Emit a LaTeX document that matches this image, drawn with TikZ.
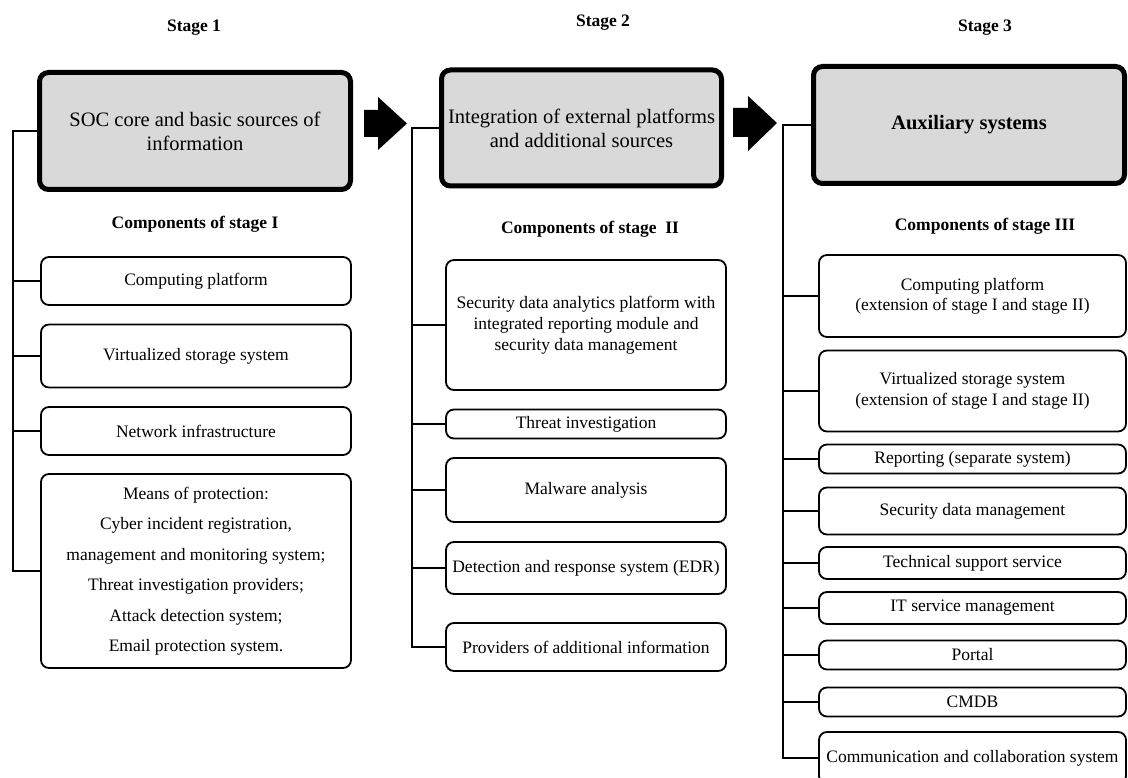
\documentclass[tikz,border=0pt]{standalone}
\usepackage{fontspec}
\setmainfont{Liberation Serif}
\definecolor{boxgray}{HTML}{D9D9D9}
\begin{document}
\begin{tikzpicture}[x=1pt,y=-1pt,
  mainbox/.style={draw, line width=5pt, rounded corners=9pt, fill=boxgray, align=center,
    font=\fontsize{20.5}{24}\selectfont, inner sep=2pt},
  compbox/.style={draw, line width=1.8pt, rounded corners=8pt, align=center,
    font=\fontsize{17.5}{21}\selectfont, inner xsep=2pt, inner ysep=0pt},
  headtext/.style={font=\fontsize{17.5}{21}\selectfont\bfseries},
  tree/.style={line width=1.6pt},
  bigarrow/.style={fill=black}]
\useasboundingbox (0,0) rectangle (1128,778);
\fill[white] (0,0) rectangle (1128,778);
\clip (0,0) rectangle (1128,778);

% headings
\node[headtext] (h1) at (194,27.5) {Stage 1};
\node[headtext] (h2) at (603,22.5) {Stage 2};
\node[headtext] (h3) at (985,27.5) {Stage 3};
\node[headtext] (c1) at (195,224) {Components of stage I};
\node[headtext] (c2) at (590,229) {Components of stage\ \ II};
\node[headtext] (c3) at (985,226) {Components of stage III};

% main boxes
\node[mainbox, minimum width=311, minimum height=117] (m1) at (195,131)
  {SOC core and basic sources of\\information};
\node[mainbox, minimum width=280, minimum height=116] (m2) at (581.5,128)
  {Integration of external platforms\\and additional sources};
\node[mainbox, minimum width=311, minimum height=117, font=\fontsize{20.5}{24}\selectfont\bfseries] (m3) at (969,125)
  {Auxiliary systems};

% block arrows
\fill[bigarrow] (364,110) -- (378,110) -- (378,97) -- (407,123.5) -- (378,150) -- (378,137) -- (364,137) -- cycle;
\fill[bigarrow] (733,108) -- (748,108) -- (748,96) -- (777,123) -- (748,151) -- (748,137) -- (733,137) -- cycle;

% stage 1 components
\node[compbox, minimum width=310, minimum height=48] (a1) at (196,281) {Computing platform};
\node[compbox, minimum width=310, minimum height=63] (a2) at (196,356) {Virtualized storage system};
\node[compbox, minimum width=310, minimum height=48] (a3) at (196,431) {Network infrastructure};
\node[compbox, minimum width=310, minimum height=194, font=\fontsize{17.5}{30.5}\selectfont] (a4) at (196,571)
  {Means of protection:\\Cyber incident registration,\\management and monitoring system;\\Threat investigation providers;\\Attack detection system;\\Email protection system.};

% stage 2 components
\node[compbox, minimum width=280, minimum height=130] (b1) at (586,325)
  {Security data analytics platform with\\integrated reporting module and\\security data management};
\node[compbox, minimum width=280, minimum height=29] (b2) at (586,424) {Threat investigation};
\node[compbox, minimum width=280, minimum height=64] (b3) at (586,490) {Malware analysis};
\node[compbox, minimum width=280, minimum height=52] (b4) at (586,568) {Detection and response system (EDR)};
\node[compbox, minimum width=280, minimum height=48] (b5) at (586,647) {Providers of additional information};

% stage 3 components
\node[compbox, minimum width=307, minimum height=82, font=\fontsize{17.5}{20}\selectfont] (d1) at (972.5,296)
  {Computing platform\\(extension of stage I and stage II)};
\node[compbox, minimum width=307, minimum height=81, font=\fontsize{17.5}{21}\selectfont] (d2) at (972.5,391)
  {Virtualized storage system\\(extension of stage I and stage II)};
\node[compbox, minimum width=307, minimum height=29] (d3) at (972.5,459) {Reporting (separate system)};
\node[compbox, minimum width=307, minimum height=47] (d4) at (972.5,511) {Security data management};
\node[compbox, minimum width=307, minimum height=32] (d5) at (972.5,563) {Technical support service};
\node[compbox, minimum width=307, minimum height=32] (d6) at (972.5,608) {IT service management};
\node[compbox, minimum width=307, minimum height=29] (d7) at (972.5,655) {Portal};
\node[compbox, minimum width=307, minimum height=29] (d8) at (972.5,702) {CMDB};
\node[compbox, minimum width=307, minimum height=52] (d9) at (972.5,758) {Communication and collaboration system};

% trees
\coordinate (s1) at (13,0);
\coordinate (s2) at (412,0);
\coordinate (s3) at (783,0);
\draw[tree] (m1.west) -- (m1.west -| s1) -- (a4.west -| s1) -- (a4.west);
\foreach \n in {a1,a2,a3} \draw[tree] (\n.west -| s1) -- (\n.west);
\draw[tree] (m2.west) -- (m2.west -| s2) -- (b5.west -| s2) -- (b5.west);
\foreach \n in {b1,b2,b3,b4} \draw[tree] (\n.west -| s2) -- (\n.west);
\draw[tree] (m3.west) -- (m3.west -| s3) -- (d9.west -| s3) -- (d9.west);
\foreach \n in {d1,d2,d3,d4,d5,d6,d7,d8} \draw[tree] (\n.west -| s3) -- (\n.west);
\end{tikzpicture}
\end{document}
